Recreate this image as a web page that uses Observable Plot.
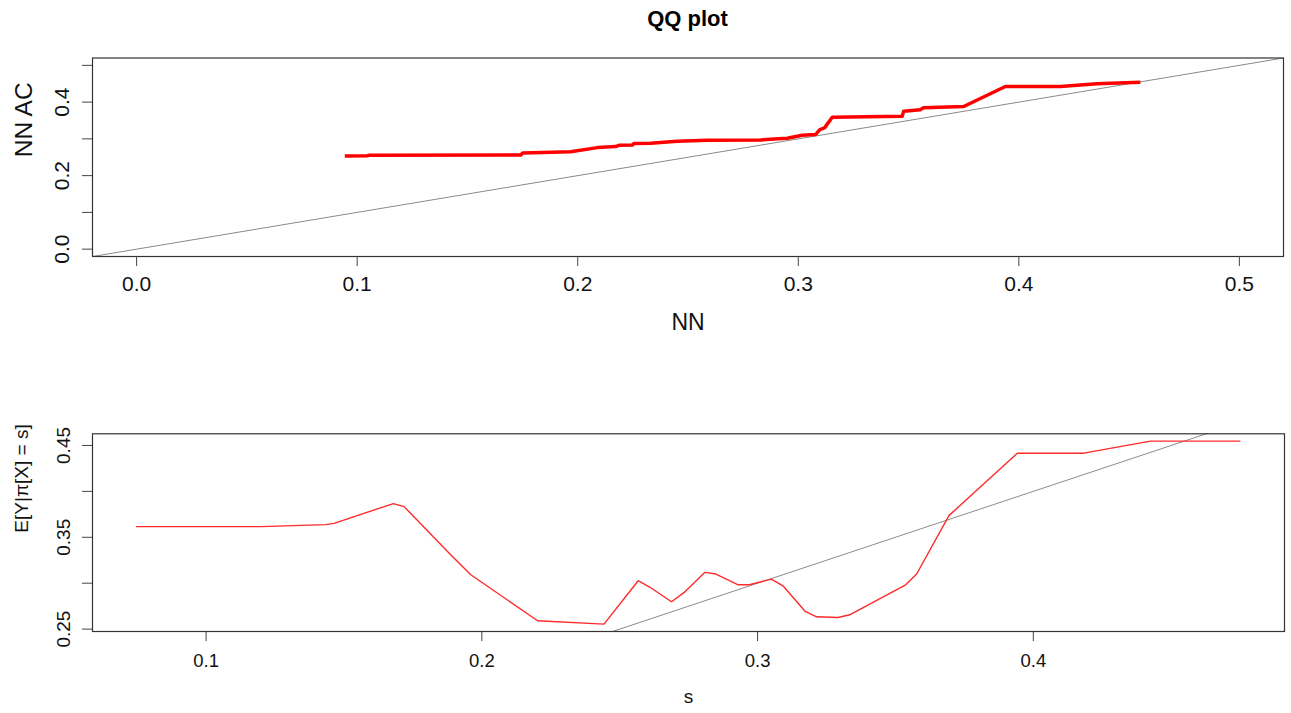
<!DOCTYPE html>
<html><head><meta charset="utf-8">
<script src="https://cdn.jsdelivr.net/npm/d3@7"></script>
<script src="https://cdn.jsdelivr.net/npm/@observablehq/plot@0.6"></script>
<style>
body{margin:0;background:#fff;font-family:"Liberation Sans",Arial,Helvetica,sans-serif;}
#title{height:36px;line-height:38px;padding-left:92px;width:1191px;text-align:center;font-weight:bold;font-size:22px;color:#000;overflow:visible;}
svg{display:block}
</style></head><body>
<div id="title">QQ plot</div>
<div id="chart"></div>
<script>
// Top panel: QQ plot of NN vs NN AC
const nnX  = [0.0944,0.1047,0.1055,0.1742,0.1750,0.1968,0.2089,0.2172,0.2187,0.2247,0.2255,0.2330,0.2451,0.2587,0.2829,0.2950,0.3018,0.3078,0.3098,0.3119,0.3154,0.3471,0.3478,0.3553,0.3568,0.3750,0.3939,0.4188,0.4354,0.4551];
const nnAC = [0.2536,0.2540,0.2556,0.2560,0.2618,0.2650,0.2762,0.2790,0.2826,0.2830,0.2872,0.2880,0.2935,0.2962,0.2971,0.3016,0.3098,0.3117,0.3253,0.3299,0.3589,0.3617,0.3752,0.3790,0.3845,0.3880,0.4426,0.4426,0.4500,0.4543];
// Bottom panel: E[Y | pi(X) = s]
const sVals = [0.0748,0.1198,0.1434,0.1464,0.1679,0.1718,0.1887,0.1960,0.2202,0.2443,0.2567,0.2607,0.2688,0.2734,0.2809,0.2849,0.2930,0.2970,0.3050,0.3092,0.3173,0.3214,0.3292,0.3334,0.3537,0.3577,0.3694,0.3942,0.4183,0.4425,0.4749];
const eVals = [0.3616,0.3616,0.3638,0.3652,0.3867,0.3834,0.3310,0.3092,0.2591,0.2554,0.3027,0.2961,0.2798,0.2900,0.3118,0.3100,0.2983,0.2983,0.3045,0.2972,0.2692,0.2634,0.2627,0.2656,0.2983,0.3100,0.3736,0.4416,0.4416,0.4547,0.4547];

const topXTicks  = [0, 0.1, 0.2, 0.3, 0.4, 0.5];
const topXLabels = ["0.0","0.1","0.2","0.3","0.4","0.5"];
const topYTicks  = [0, 0.1, 0.2, 0.3, 0.4, 0.5];
const topYLabels = ["0.0","","0.2","","0.4",""];
const botXTicks  = [0.1, 0.2, 0.3, 0.4];
const botXLabels = ["0.1","0.2","0.3","0.4"];
const botYTicks  = [0.25, 0.30, 0.35, 0.40, 0.45];
const botYLabels = ["0.25","","0.35","","0.45"];

const topXDomain = [-0.02, 0.52];
const topYDomain = [-0.02, 0.52];
const botXDomain = [0.0588, 0.4911];
const botYDomain = [0.2474, 0.4627];

const FONT = '"Liberation Sans", Arial, Helvetica, sans-serif';
const fmt = (ticks, labels) => d => labels[ticks.indexOf(d)];

const topData = nnX.map((x, i) => ({x, y: nnAC[i]}));
const botData = sVals.map((x, i) => ({x, y: eVals[i]}));
const topDiag = topXDomain.map(v => ({x: v, y: v}));
const botDiag = [Math.min(botXDomain[0], botYDomain[0]), Math.max(botXDomain[1], botYDomain[1])].map(v => ({x: v, y: v}));

const topPlot = Plot.plot({
  width: 1291, height: 324,
  marginLeft: 92, marginRight: 8, marginTop: 21.5, marginBottom: 104,
  style: {fontFamily: FONT, background: "#fff", color: "#000"},
  x: {domain: topXDomain},
  y: {domain: topYDomain},
  marks: [
    Plot.line(topDiag, {x: "x", y: "y", stroke: "#8a8a8a", strokeWidth: 1, clip: true}),
    Plot.line(topData, {x: "x", y: "y", stroke: "#ff0000", strokeWidth: 3.5, strokeLinejoin: "round", strokeLinecap: "butt"}),
    Plot.frame({stroke: "#333", strokeWidth: 1.2}),
    Plot.axisX(topXTicks, {tickSize: 10, tickPadding: 10, tickFormat: fmt(topXTicks, topXLabels), fontSize: 21, stroke: "#444", fill: "#111", label: null}),
    Plot.axisY(topYTicks, {tickSize: 10, tickPadding: 13.7, tickRotate: -90, tickFormat: fmt(topYTicks, topYLabels), fontSize: 21, stroke: "#444", fill: "#111", label: null}),
    Plot.text(["NN"], {text: d => d, frameAnchor: "bottom", dy: 66.5, lineAnchor: "middle", fontSize: 23, fill: "#111"}),
    Plot.text(["NN AC"], {text: d => d, frameAnchor: "left", dx: -68.5, rotate: -90, lineAnchor: "middle", fontSize: 24.5, fill: "#111"})
  ]
});

const bottomPlot = Plot.plot({
  width: 1291, height: 353,
  marginLeft: 92, marginRight: 7, marginTop: 73.3, marginBottom: 82,
  style: {fontFamily: FONT, background: "#fff", color: "#000"},
  x: {domain: botXDomain},
  y: {domain: botYDomain},
  marks: [
    Plot.line(botDiag, {x: "x", y: "y", stroke: "#8a8a8a", strokeWidth: 1, clip: true}),
    Plot.line(botData, {x: "x", y: "y", stroke: "#ff2a2a", strokeWidth: 1.4, strokeLinejoin: "round"}),
    Plot.frame({stroke: "#333", strokeWidth: 1.2}),
    Plot.axisX(botXTicks, {tickSize: 10, tickPadding: 12.5, tickFormat: fmt(botXTicks, botXLabels), fontSize: 18.5, stroke: "#444", fill: "#111", label: null}),
    Plot.axisY(botYTicks, {tickSize: 10, tickPadding: 12.7, tickRotate: -90, tickFormat: fmt(botYTicks, botYLabels), fontSize: 19, stroke: "#444", fill: "#111", label: null}),
    Plot.text(["s"], {text: d => d, frameAnchor: "bottom", dy: 65, lineAnchor: "middle", fontSize: 19, fill: "#111"}),
    Plot.text(["E[Y|\u03c0[X] = s]"], {text: d => d, frameAnchor: "left", dx: -71, rotate: -90, lineAnchor: "middle", fontSize: 19, fill: "#111"})
  ]
});

const chart = document.getElementById("chart");
chart.appendChild(topPlot);
chart.appendChild(bottomPlot);
</script>
</body></html>
